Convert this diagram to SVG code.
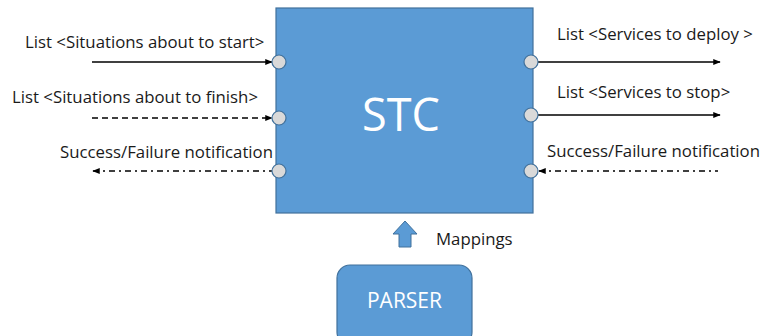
<svg xmlns="http://www.w3.org/2000/svg" width="762" height="336" viewBox="0 0 762 336">
<defs>
<style>
.lbl{font-family:"Open Sans","Liberation Sans",sans-serif;font-size:16.8px;fill:#1a1a1a}
.wt{font-family:"Open Sans","Liberation Sans",sans-serif;fill:#ffffff}
.box{fill:#5B9BD5;stroke:#41719C;stroke-width:1.2}
.port{fill:#D9D9D9;stroke:#41719C;stroke-width:1.2}
.ln{stroke:#000;stroke-width:1.5;fill:none}
.dash{stroke-dasharray:6,4}
.dd{stroke-dasharray:6,4,2,4}
</style>
<marker id="ah" viewBox="0 0 10 10" refX="9" refY="5" markerWidth="5" markerHeight="5" orient="auto-start-reverse" markerUnits="strokeWidth">
<path d="M0,1 L10,5 L0,9 Z" fill="#000"/>
</marker>
</defs>
<g id="stc">
<rect class="box" x="276" y="8" width="257" height="205"/>
<text class="wt" x="401" y="131" font-size="45" text-anchor="middle">STC</text>
</g>
<g id="parser">
<rect class="box" x="337" y="265" width="135" height="80" rx="13"/>
<text class="wt" x="404.5" y="308" font-size="21" text-anchor="middle">PARSER</text>
</g>
<g id="connectors">
<line class="ln" x1="92" y1="62" x2="272" y2="62" marker-end="url(#ah)"/>
<line class="ln dash" x1="92" y1="118" x2="272" y2="118" marker-end="url(#ah)"/>
<line class="ln dd" x1="93" y1="171" x2="272" y2="171" marker-start="url(#ah)"/>
<line class="ln" x1="538" y1="62" x2="720" y2="62" marker-end="url(#ah)"/>
<line class="ln" x1="538" y1="115" x2="720" y2="115" marker-end="url(#ah)"/>
<line class="ln dd" x1="539" y1="171" x2="718" y2="171" marker-start="url(#ah)"/>
<path d="M405,221 L417,234 L411,234 L411,247 L399,247 L399,234 L393,234 Z" fill="#5B9BD5" stroke="#41719C" stroke-width="1"/>
</g>
<g id="ports">
<circle class="port" cx="279" cy="62" r="7"/>
<circle class="port" cx="279" cy="118" r="7"/>
<circle class="port" cx="279" cy="171" r="7"/>
<circle class="port" cx="531" cy="62" r="7"/>
<circle class="port" cx="531" cy="115" r="7"/>
<circle class="port" cx="531" cy="171" r="7"/>
</g>
<g id="labels">
<text class="lbl" x="25" y="48">List &lt;Situations about to start&gt;</text>
<text class="lbl" x="12" y="103">List &lt;Situations about to finish&gt;</text>
<text class="lbl" x="60" y="158">Success/Failure notification</text>
<text class="lbl" x="557" y="40">List &lt;Services to deploy &gt;</text>
<text class="lbl" x="557" y="98">List &lt;Services to stop&gt;</text>
<text class="lbl" x="547" y="157">Success/Failure notification</text>
<text class="lbl" x="436" y="245">Mappings</text>
</g>
</svg>
